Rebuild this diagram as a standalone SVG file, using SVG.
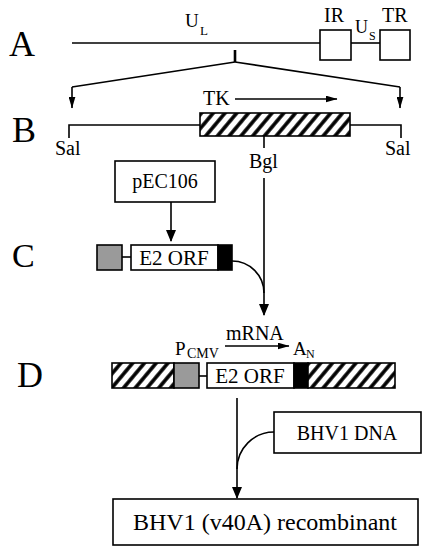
<svg xmlns="http://www.w3.org/2000/svg" width="431" height="550" viewBox="0 0 431 550">
<style>
text{font-family:"Liberation Serif","Times New Roman",serif;fill:#000}
.big{font-size:36px}
.t20{font-size:20px}
.sub{font-size:13px}
.ln{stroke:#000;stroke-width:1.6;fill:none}
.box{fill:#fff;stroke:#000;stroke-width:1.6}
.hatch{fill:url(#hatch);stroke:#000;stroke-width:1.6}
.gray{fill:#9a9a9a;stroke:#000;stroke-width:1.6}
.blk{fill:#000;stroke:#000;stroke-width:1.6}
</style>
<defs>
<pattern id="hatch" patternUnits="userSpaceOnUse" width="9" height="9" patternTransform="rotate(40)">
<rect width="9" height="9" fill="#fff"/>
<line x1="2" y1="-1" x2="2" y2="10" stroke="#000" stroke-width="3.6"/>
</pattern>
<marker id="arr" markerWidth="12" markerHeight="10" refX="11" refY="5" orient="auto" markerUnits="userSpaceOnUse">
<path d="M0,0 L12,5 L0,10 Z" fill="#000"/>
</marker>
<marker id="arrs" markerWidth="12" markerHeight="7" refX="11.5" refY="3.5" orient="auto" markerUnits="userSpaceOnUse">
<path d="M0,0 L12,3.5 L0,7 Z" fill="#000"/>
</marker>
</defs>
<rect width="431" height="550" fill="#fff"/>

<g id="labels">
<text class="big" x="9" y="56">A</text>
<text class="big" x="12" y="142">B</text>
<text class="big" x="12" y="267" style="font-size:34px">C</text>
<text class="big" x="17" y="387">D</text>
</g>

<g id="genome">
<line class="ln" x1="72" y1="43" x2="320" y2="43"/>
<rect class="box" x="320" y="30" width="31" height="30"/>
<line class="ln" x1="351" y1="43" x2="380" y2="43"/>
<rect class="box" x="380" y="30" width="30" height="30"/>
<text style="font-size:19px" x="185" y="27">U</text>
<text class="sub" x="200" y="35">L</text>
<text class="t20" x="324" y="22">IR</text>
<text style="font-size:18px" x="355" y="33">U</text>
<text style="font-size:12px" x="369" y="40">S</text>
<text class="t20" x="382" y="22">TR</text>
<line x1="235" y1="50" x2="235" y2="62" stroke="#000" stroke-width="2.6"/>
</g>

<g id="tk-fragment">
<polyline class="ln" points="69,138 69,125 200,125"/>
<polyline class="ln" points="350,125 401,125 401,138"/>
<rect class="hatch" x="200" y="113" width="150" height="23"/>
<line class="ln" x1="264" y1="136" x2="264" y2="148"/>
<text class="t20" x="203" y="105">TK</text>
<line class="ln" x1="235" y1="99" x2="337" y2="99" marker-end="url(#arrs)"/>
<text class="t20" x="55" y="155">Sal</text>
<text class="t20" x="385" y="155">Sal</text>
<text class="t20" x="249" y="168">Bgl</text>
</g>

<g id="pEC106">
<rect class="box" x="115" y="161" width="100" height="41"/>
<text class="t20" x="165" y="188" text-anchor="middle">pEC106</text>
</g>

<g id="cassette">
<rect class="gray" x="97" y="245" width="25" height="25"/>
<line class="ln" x1="122" y1="257" x2="131" y2="257"/>
<rect class="box" x="131" y="245" width="87" height="25"/>
<text x="174" y="265" text-anchor="middle" style="font-size:21px">E2 ORF</text>
<rect class="blk" x="218" y="245" width="14" height="25"/>
</g>

<g id="construct">
<rect class="hatch" x="112" y="363" width="62" height="25"/>
<rect class="gray" x="174" y="363" width="25" height="25"/>
<line class="ln" x1="199" y1="376" x2="207" y2="376"/>
<rect class="box" x="207" y="363" width="87" height="25"/>
<text x="250" y="383" text-anchor="middle" style="font-size:21px">E2 ORF</text>
<rect class="blk" x="294" y="363" width="14" height="25"/>
<rect class="hatch" x="308" y="363" width="87" height="25"/>
<text style="font-size:19px" x="175" y="355">P</text>
<text style="font-size:14px" x="187" y="358">CMV</text>
<text class="t20" x="226" y="340">mRNA</text>
<line class="ln" x1="225" y1="346" x2="289" y2="346" marker-end="url(#arrs)"/>
<text style="font-size:19px" x="293" y="355">A</text>
<text style="font-size:12px" x="306" y="358">N</text>
</g>

<g id="bhv1-dna">
<rect class="box" x="274" y="412" width="147" height="41"/>
<text class="t20" x="347" y="440" text-anchor="middle">BHV1 DNA</text>
</g>

<g id="recombinant">
<rect class="box" x="113" y="499" width="305" height="46"/>
<text x="265" y="530" text-anchor="middle" style="font-size:24px">BHV1 (v40A) recombinant</text>
</g>

<g id="connectors">
<line class="ln" x1="235" y1="62" x2="72" y2="87"/>
<line class="ln" x1="235" y1="62" x2="400" y2="87"/>
<line class="ln" x1="72" y1="87" x2="72" y2="108" marker-end="url(#arrs)"/>
<line class="ln" x1="400" y1="87" x2="400" y2="108" marker-end="url(#arrs)"/>
<line class="ln" x1="171" y1="202" x2="171" y2="241" marker-end="url(#arr)"/>
<line class="ln" x1="264" y1="178" x2="264" y2="315" marker-end="url(#arr)"/>
<path class="ln" d="M232,261 A32,32 0 0 1 264,293"/>
<line class="ln" x1="237" y1="398" x2="237" y2="498" marker-end="url(#arr)"/>
<path class="ln" d="M274,432 A37,37 0 0 0 237,469"/>
</g>
</svg>
